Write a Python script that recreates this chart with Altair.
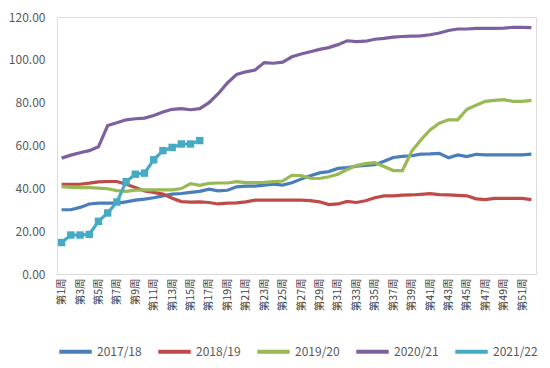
import altair as alt
import pandas as pd

weeks = [f"第{n}周" for n in range(1, 53)]
tick_weeks = [f"第{n}周" for n in range(1, 53, 2)]

series_names = ["2017/18", "2018/19", "2019/20", "2020/21", "2021/22"]
series_colors = ["#4A7EBB", "#BE4B48", "#98B954", "#7D60A0", "#46AAC5"]

s2017 = [30.0, 30.0, 31.1, 32.7, 33.1, 33.1, 33.1, 33.7, 34.5, 35.0, 35.6, 36.5, 37.3, 37.6, 38.1, 38.6,
         39.6, 38.8, 39.1, 40.7, 41.0, 41.0, 41.5, 42.0, 41.5, 42.6, 44.3, 45.9, 47.2, 47.8, 49.3, 49.7,
         50.3, 50.7, 51.0, 52.6, 54.4, 54.9, 55.2, 56.0, 56.1, 56.3, 54.3, 55.6, 54.8, 55.9, 55.6, 55.6,
         55.6, 55.6, 55.6, 56.0]
s2018 = [41.9, 41.9, 41.9, 42.4, 43.0, 43.2, 43.2, 41.9, 40.4, 38.8, 38.1, 37.3, 35.4, 33.8, 33.6, 33.7,
         33.4, 32.7, 33.1, 33.2, 33.7, 34.5, 34.5, 34.5, 34.5, 34.5, 34.5, 34.3, 33.7, 32.4, 32.7, 33.9,
         33.4, 34.2, 35.6, 36.5, 36.5, 36.8, 36.9, 37.2, 37.5, 37.1, 36.9, 36.7, 36.5, 35.1, 34.7, 35.3,
         35.3, 35.3, 35.3, 34.7]
s2019 = [40.8, 40.4, 40.3, 40.3, 40.1, 39.8, 38.9, 38.6, 39.2, 39.3, 39.3, 39.3, 39.3, 39.9, 42.2, 41.4,
         42.3, 42.5, 42.5, 43.1, 42.7, 42.7, 42.8, 43.1, 43.4, 46.1, 45.9, 44.7, 44.6, 45.4, 46.6, 48.8,
         50.6, 51.5, 52.0, 50.2, 48.3, 48.3, 57.3, 62.6, 67.3, 70.4, 72.0, 72.0, 76.9, 78.8, 80.6, 81.1,
         81.4, 80.6, 80.6, 81.1]
s2020 = [54.1, 55.5, 56.6, 57.6, 59.4, 69.3, 70.6, 72.0, 72.5, 72.8, 74.0, 75.6, 76.9, 77.2, 76.7, 77.2,
         80.0, 84.2, 89.2, 93.2, 94.4, 95.2, 98.7, 98.4, 98.9, 101.4, 102.7, 103.8, 104.9, 105.7, 107.1, 108.9,
         108.5, 108.7, 109.6, 110.0, 110.6, 110.9, 111.1, 111.2, 111.7, 112.5, 113.7, 114.4, 114.4, 114.7, 114.7, 114.7,
         114.8, 115.2, 115.2, 115.0]
s2021 = [14.7, 18.2, 18.2, 18.5, 24.6, 28.5, 33.6, 43.1, 46.6, 47.1, 53.3, 57.6, 59.1, 60.7, 60.7, 62.3]

all_values = [s2017, s2018, s2019, s2020, s2021]
rows = []
for name, vals in zip(series_names, all_values):
    for w, v in zip(weeks, vals):
        rows.append({"week": w, "series": name, "value": v})
df = pd.DataFrame(rows)

font = "Noto Sans CJK SC"
grey = "#595959"

color_scale = alt.Scale(domain=series_names, range=series_colors)
color = alt.Color(
    "series:N",
    scale=color_scale,
    legend=alt.Legend(
        title=None, orient="bottom", direction="horizontal", offset=22,
        symbolType="stroke", symbolStrokeWidth=4, symbolSize=1050,
        labelFontSize=12, labelColor=grey, labelFont=font, columnPadding=8,
        labelOffset=3, padding=0, labelLimit=60,
    ),
)

x = alt.X(
    "week:N", sort=weeks, title=None,
    scale=alt.Scale(domain=weeks, padding=0.5),
    axis=alt.Axis(values=tick_weeks, labelAngle=-90, labelFontSize=10.5, labelColor="#404040",
                  labelFont=font, ticks=False, domainColor="#D9D9D9", domainWidth=1,
                  labelPadding=4, grid=False),
)
y = alt.Y(
    "value:Q", title=None,
    scale=alt.Scale(domain=[0, 120], nice=False),
    axis=alt.Axis(values=[0, 20, 40, 60, 80, 100, 120], format=".2f", domain=False, ticks=False,
                  grid=False, labelFontSize=12, labelColor=grey, labelFont=font, labelPadding=12),
)

lines = alt.Chart(df).mark_line(strokeWidth=3.2).encode(x=x, y=y, color=color)
points = alt.Chart(df).transform_filter(alt.datum.series == "2021/22").mark_square(
    size=55, opacity=1, filled=True
).encode(x=x, y=y, color=alt.Color("series:N", scale=color_scale, legend=None))

chart = alt.layer(lines, points).properties(
    width=534, height=352,
    autosize=alt.AutoSizeParams(type="fit", contains="padding"),
    padding={"left": 0, "top": 3, "right": 4, "bottom": 0},
).configure_view(stroke=None).configure(background="white")

chart.save("out.html", embed_options={"renderer": "svg", "actions": False})
